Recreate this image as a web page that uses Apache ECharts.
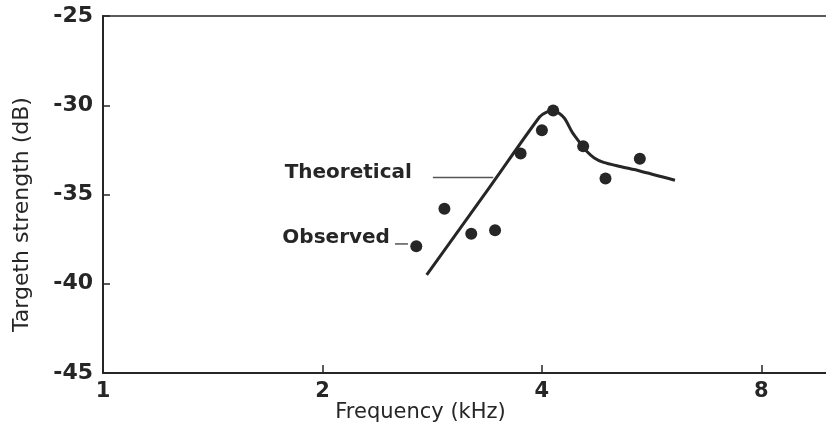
<!DOCTYPE html>
<html>
<head>
<meta charset="utf-8">
<script src="https://cdn.jsdelivr.net/npm/echarts@6/dist/echarts.min.js"></script>
<style>
  html, body { margin: 0; padding: 0; background: #fff; }
  #chart { width: 826px; height: 435px; }
</style>
</head>
<body>
<div id="chart"></div>
<script>
// Frequency response of target strength: theory vs. measurement
const xTicks = [1, 2, 4, 8];               // kHz, octave ticks on the log axis
const yTicks = [-45, -40, -35, -30, -25];  // dB

// Theoretical curve [frequency kHz, target strength dB]
const theoretical = [
  [2.78, -39.5], [3.39, -34.6], [3.97, -30.66], [4.06, -30.38],
  [4.15, -30.3], [4.29, -30.7], [4.40, -31.5], [4.50, -32.05],
  [4.60, -32.55], [4.72, -32.95], [4.86, -33.2], [5.12, -33.43],
  [5.45, -33.68], [6.09, -34.2]
];

// Observed points [frequency kHz, target strength dB]
const observed = [
  [2.69, -37.9], [2.94, -35.8], [3.20, -37.2], [3.45, -37.0],
  [3.74, -32.7], [4.00, -31.4], [4.145, -30.3], [4.557, -32.3],
  [4.89, -34.1], [5.45, -33.0]
];

// Callout labels, anchored in data space
const labelTheory = { text: 'Theoretical', at: [2.653, -33.8], lead: [[2.835, -34.05], [3.43, -34.05]] };
const labelObs = { text: 'Observed', at: [2.475, -37.44], lead: [[2.515, -37.77], [2.62, -37.77]] };

const ink = '#262626';
const font = 'DejaVu Sans';

const chart = echarts.init(document.getElementById('chart'), null, { renderer: 'canvas' });

chart.setOption({
  animation: false,
  backgroundColor: '#fff',
  grid: {
    left: 103, top: 16, width: 729, height: 357,
    outerBoundsMode: 'none', containLabel: false,
    show: true, borderColor: ink, borderWidth: 1.5, backgroundColor: 'transparent'
  },
  xAxis: {
    type: 'log', logBase: 2, min: 1, max: 10,
    name: 'Frequency (kHz)', nameLocation: 'middle', nameGap: 29, nameMoveOverlap: false,
    nameTextStyle: { fontFamily: font, fontSize: 21, color: ink, padding: [0, 94, 0, 0] },
    axisLine: { show: true, lineStyle: { color: ink, width: 2 } },
    axisTick: { show: true, inside: true, length: 8, lineStyle: { color: ink, width: 1.5 } },
    axisLabel: {
      fontFamily: font, fontSize: 21, fontWeight: 'bold', color: ink, margin: 8,
      showMaxLabel: false,
      formatter: v => (xTicks.some(t => Math.abs(t - v) < 1e-6) ? String(Math.round(v)) : '')
    },
    splitLine: { show: false },
    minorTick: { show: false }
  },
  yAxis: {
    type: 'value', min: yTicks[0], max: yTicks[yTicks.length - 1], interval: 5,
    name: 'Targeth strength (dB)', nameLocation: 'middle', nameGap: 70, nameRotate: 90,
    nameTextStyle: { fontFamily: font, fontSize: 22, color: ink, padding: [0, 40, 0, 0] },
    axisLine: { show: true, lineStyle: { color: ink, width: 2 } },
    axisTick: { show: true, inside: true, length: 7, lineStyle: { color: ink, width: 1.5 } },
    axisLabel: { fontFamily: font, fontSize: 22, fontWeight: 'bold', color: ink, margin: 10 },
    splitLine: { show: false }
  },
  series: [
    {
      name: 'Theoretical', type: 'line', data: theoretical,
      smooth: 0.25, showSymbol: false,
      lineStyle: { color: ink, width: 3 }
    },
    {
      name: 'Observed', type: 'scatter', data: observed,
      symbol: 'circle', symbolSize: 12,
      itemStyle: { color: ink, opacity: 1 }
    }
  ]
});

// Callout text and leader lines, positioned through the axes
function px(p) { return chart.convertToPixel({ gridIndex: 0 }, p); }
const callouts = [];
[labelTheory, labelObs].forEach(c => {
  const t = px(c.at);
  const a = px(c.lead[0]);
  const b = px(c.lead[1]);
  callouts.push({
    type: 'text', x: t[0], y: t[1],
    style: {
      text: c.text, fontFamily: font, fontSize: 20, fontWeight: 'bold',
      fill: ink, align: 'right', verticalAlign: 'middle'
    }
  });
  callouts.push({
    type: 'line',
    shape: { x1: a[0], y1: a[1], x2: b[0], y2: b[1] },
    style: { stroke: '#555', lineWidth: 1.5 }
  });
});
chart.setOption({ graphic: callouts });
</script>
</body>
</html>
